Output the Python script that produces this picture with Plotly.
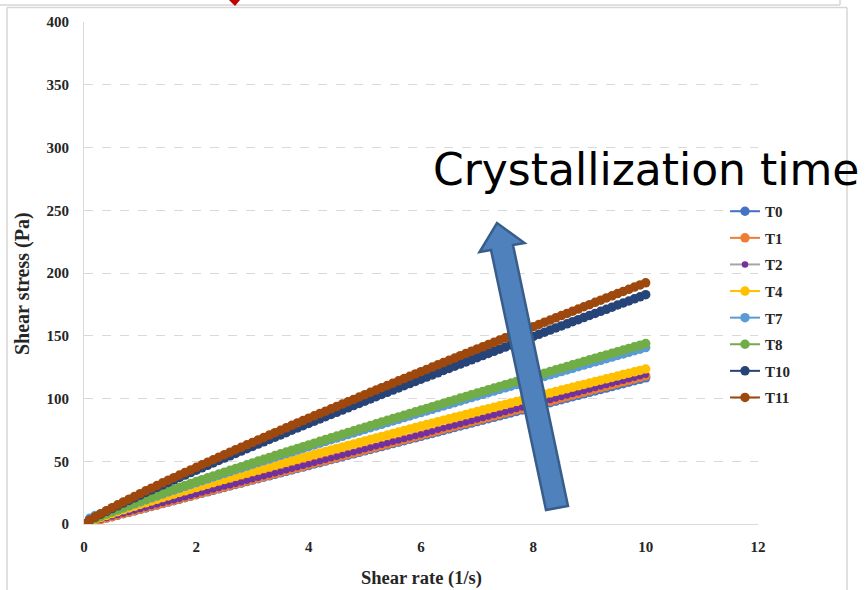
import plotly.graph_objects as go

# ---------------- data ----------------
shear_rate = [0.0, 0.1, 0.2, 0.3, 0.4, 0.5, 0.6, 0.7, 0.8, 0.9, 1.0,
              1.1, 1.2, 1.3, 1.4, 1.5, 1.6, 1.7, 1.8, 1.9, 2.0,
              2.1, 2.2, 2.3, 2.4, 2.5, 2.6, 2.7, 2.8, 2.9, 3.0,
              3.1, 3.2, 3.3, 3.4, 3.5, 3.6, 3.7, 3.8, 3.9, 4.0,
              4.1, 4.2, 4.3, 4.4, 4.5, 4.6, 4.7, 4.8, 4.9, 5.0,
              5.1, 5.2, 5.3, 5.4, 5.5, 5.6, 5.7, 5.8, 5.9, 6.0,
              6.1, 6.2, 6.3, 6.4, 6.5, 6.6, 6.7, 6.8, 6.9, 7.0,
              7.1, 7.2, 7.3, 7.4, 7.5, 7.6, 7.7, 7.8, 7.9, 8.0,
              8.1, 8.2, 8.3, 8.4, 8.5, 8.6, 8.7, 8.8, 8.9, 9.0,
              9.1, 9.2, 9.3, 9.4, 9.5, 9.6, 9.7, 9.8, 9.9, 10.0]

T0 = [0.0, 2.5, 3.5, 4.2, 4.9, 5.8, 7.0, 8.2, 9.3, 10.5, 11.7,
      12.8, 14.0, 15.1, 16.3, 17.5, 18.6, 19.8, 21.0, 22.1, 23.3,
      24.5, 25.6, 26.8, 28.0, 29.1, 30.3, 31.5, 32.6, 33.8, 35.0,
      36.1, 37.3, 38.4, 39.6, 40.8, 41.9, 43.1, 44.3, 45.4, 46.6,
      47.8, 48.9, 50.1, 51.3, 52.4, 53.6, 54.8, 55.9, 57.1, 58.3,
      59.4, 60.6, 61.7, 62.9, 64.1, 65.2, 66.4, 67.6, 68.7, 69.9,
      71.1, 72.2, 73.4, 74.6, 75.7, 76.9, 78.1, 79.2, 80.4, 81.6,
      82.7, 83.9, 85.0, 86.2, 87.4, 88.5, 89.7, 90.9, 92.0, 93.2,
      94.4, 95.5, 96.7, 97.9, 99.0, 100.2, 101.4, 102.5, 103.7, 104.9,
      106.0, 107.2, 108.3, 109.5, 110.7, 111.8, 113.0, 114.2, 115.3, 116.5]

T1 = [0.0, 1.2, 2.4, 3.5, 4.7, 5.9, 7.1, 8.3, 9.4, 10.6, 11.8,
      13.0, 14.2, 15.3, 16.5, 17.7, 18.9, 20.1, 21.2, 22.4, 23.6,
      24.8, 26.0, 27.1, 28.3, 29.5, 30.7, 31.9, 33.0, 34.2, 35.4,
      36.6, 37.8, 38.9, 40.1, 41.3, 42.5, 43.7, 44.8, 46.0, 47.2,
      48.4, 49.6, 50.7, 51.9, 53.1, 54.3, 55.5, 56.6, 57.8, 59.0,
      60.2, 61.4, 62.5, 63.7, 64.9, 66.1, 67.3, 68.4, 69.6, 70.8,
      72.0, 73.2, 74.3, 75.5, 76.7, 77.9, 79.1, 80.2, 81.4, 82.6,
      83.8, 85.0, 86.1, 87.3, 88.5, 89.7, 90.9, 92.0, 93.2, 94.4,
      95.6, 96.8, 97.9, 99.1, 100.3, 101.5, 102.7, 103.8, 105.0, 106.2,
      107.4, 108.6, 109.7, 110.9, 112.1, 113.3, 114.5, 115.6, 116.8, 118.0]

T2 = [0.0, 1.2, 2.4, 3.6, 4.8, 6.0, 7.1, 8.3, 9.5, 10.7, 11.9,
      13.1, 14.3, 15.5, 16.7, 17.9, 19.0, 20.2, 21.4, 22.6, 23.8,
      25.0, 26.2, 27.4, 28.6, 29.8, 30.9, 32.1, 33.3, 34.5, 35.7,
      36.9, 38.1, 39.3, 40.5, 41.7, 42.8, 44.0, 45.2, 46.4, 47.6,
      48.8, 50.0, 51.2, 52.4, 53.6, 54.7, 55.9, 57.1, 58.3, 59.5,
      60.7, 61.9, 63.1, 64.3, 65.5, 66.6, 67.8, 69.0, 70.2, 71.4,
      72.6, 73.8, 75.0, 76.2, 77.4, 78.5, 79.7, 80.9, 82.1, 83.3,
      84.5, 85.7, 86.9, 88.1, 89.3, 90.4, 91.6, 92.8, 94.0, 95.2,
      96.4, 97.6, 98.8, 100.0, 101.2, 102.3, 103.5, 104.7, 105.9, 107.1,
      108.3, 109.5, 110.7, 111.9, 113.1, 114.2, 115.4, 116.6, 117.8, 119.0]

T4 = [0.0, 2.0, 3.7, 5.3, 6.8, 8.3, 9.8, 11.3, 12.7, 14.1, 15.6,
      16.9, 18.3, 19.7, 21.1, 22.4, 23.7, 25.1, 26.4, 27.7, 29.0,
      30.3, 31.6, 32.9, 34.2, 35.5, 36.7, 38.0, 39.3, 40.5, 41.8,
      43.0, 44.3, 45.5, 46.8, 48.0, 49.3, 50.5, 51.7, 52.9, 54.1,
      55.4, 56.6, 57.8, 59.0, 60.2, 61.4, 62.6, 63.8, 65.0, 66.2,
      67.4, 68.6, 69.8, 70.9, 72.1, 73.3, 74.5, 75.7, 76.8, 78.0,
      79.2, 80.3, 81.5, 82.7, 83.8, 85.0, 86.1, 87.3, 88.5, 89.6,
      90.8, 91.9, 93.0, 94.2, 95.3, 96.5, 97.6, 98.8, 99.9, 101.0,
      102.2, 103.3, 104.4, 105.6, 106.7, 107.8, 109.0, 110.1, 111.2, 112.3,
      113.5, 114.6, 115.7, 116.8, 117.9, 119.1, 120.2, 121.3, 122.4, 123.5]

T7 = [0.0, 4.5, 6.8, 8.0, 8.8, 9.8, 11.3, 12.8, 14.5, 16.1, 17.7,
      19.3, 20.9, 22.4, 24.0, 25.5, 27.0, 28.5, 30.0, 31.5, 33.0,
      34.5, 36.0, 37.5, 38.9, 40.4, 41.8, 43.3, 44.7, 46.2, 47.6,
      49.0, 50.4, 51.8, 53.3, 54.7, 56.1, 57.5, 58.9, 60.3, 61.6,
      63.0, 64.4, 65.8, 67.2, 68.5, 69.9, 71.3, 72.6, 74.0, 75.3,
      76.7, 78.1, 79.4, 80.8, 82.1, 83.4, 84.8, 86.1, 87.5, 88.8,
      90.1, 91.4, 92.8, 94.1, 95.4, 96.7, 98.1, 99.4, 100.7, 102.0,
      103.3, 104.6, 105.9, 107.2, 108.5, 109.8, 111.1, 112.4, 113.7, 115.0,
      116.3, 117.6, 118.9, 120.2, 121.5, 122.8, 124.0, 125.3, 126.6, 127.9,
      129.2, 130.4, 131.7, 133.0, 134.3, 135.5, 136.8, 138.1, 139.3, 140.6]

T8 = [0.0, 2.3, 4.3, 6.1, 7.9, 9.7, 11.4, 13.1, 14.8, 16.5, 18.1,
      19.7, 21.3, 22.9, 24.5, 26.1, 27.6, 29.2, 30.7, 32.3, 33.8,
      35.3, 36.8, 38.3, 39.8, 41.3, 42.8, 44.2, 45.7, 47.2, 48.7,
      50.1, 51.6, 53.0, 54.5, 55.9, 57.3, 58.8, 60.2, 61.6, 63.0,
      64.4, 65.9, 67.3, 68.7, 70.1, 71.5, 72.9, 74.3, 75.7, 77.0,
      78.4, 79.8, 81.2, 82.6, 84.0, 85.3, 86.7, 88.1, 89.4, 90.8,
      92.1, 93.5, 94.9, 96.2, 97.6, 98.9, 100.3, 101.6, 103.0, 104.3,
      105.6, 107.0, 108.3, 109.6, 111.0, 112.3, 113.6, 115.0, 116.3, 117.6,
      118.9, 120.2, 121.6, 122.9, 124.2, 125.5, 126.8, 128.1, 129.5, 130.8,
      132.1, 133.4, 134.7, 136.0, 137.3, 138.6, 139.9, 141.2, 142.5, 143.8]

T10 = [0.0, 2.9, 5.4, 7.8, 10.1, 12.3, 14.5, 16.7, 18.8, 20.9, 23.0,
       25.1, 27.1, 29.1, 31.1, 33.1, 35.1, 37.1, 39.0, 41.0, 42.9,
       44.8, 46.8, 48.7, 50.6, 52.5, 54.3, 56.2, 58.1, 60.0, 61.8,
       63.7, 65.5, 67.4, 69.2, 71.0, 72.8, 74.7, 76.5, 78.3, 80.1,
       81.9, 83.7, 85.5, 87.3, 89.0, 90.8, 92.6, 94.4, 96.1, 97.9,
       99.7, 101.4, 103.2, 104.9, 106.7, 108.4, 110.2, 111.9, 113.6, 115.4,
       117.1, 118.8, 120.5, 122.3, 124.0, 125.7, 127.4, 129.1, 130.8, 132.5,
       134.2, 135.9, 137.6, 139.3, 141.0, 142.7, 144.4, 146.1, 147.8, 149.4,
       151.1, 152.8, 154.5, 156.2, 157.8, 159.5, 161.2, 162.8, 164.5, 166.2,
       167.8, 169.5, 171.1, 172.8, 174.5, 176.1, 177.7, 179.4, 181.0, 182.7]

T11 = [0.0, 3.0, 5.7, 8.2, 10.6, 13.0, 15.3, 17.6, 19.8, 22.0, 24.2,
       26.4, 28.5, 30.6, 32.8, 34.9, 36.9, 39.0, 41.1, 43.1, 45.2,
       47.2, 49.2, 51.2, 53.2, 55.2, 57.2, 59.2, 61.1, 63.1, 65.0,
       67.0, 68.9, 70.9, 72.8, 74.7, 76.6, 78.6, 80.5, 82.4, 84.3,
       86.2, 88.1, 89.9, 91.8, 93.7, 95.6, 97.4, 99.3, 101.2, 103.0,
       104.9, 106.7, 108.6, 110.4, 112.2, 114.1, 115.9, 117.7, 119.6, 121.4,
       123.2, 125.0, 126.8, 128.6, 130.4, 132.2, 134.1, 135.9, 137.7, 139.5,
       141.2, 143.0, 144.8, 146.6, 148.4, 150.2, 151.9, 153.7, 155.5, 157.2,
       159.0, 160.8, 162.5, 164.3, 166.1, 167.8, 169.6, 171.3, 173.1, 174.8,
       176.6, 178.3, 180.1, 181.8, 183.6, 185.3, 187.0, 188.8, 190.5, 192.2]

series_names = ["T0", "T1", "T2", "T4", "T7", "T8", "T10", "T11"]
series_values = [T0, T1, T2, T4, T7, T8, T10, T11]
line_colors = ["#4472C4", "#ED7D31", "#A5A5A5", "#FFC000", "#5B9BD5", "#70AD47", "#264478", "#9E480E"]
marker_colors = ["#4472C4", "#ED7D31", "#7030A0", "#FFC000", "#5B9BD5", "#70AD47", "#264478", "#9E480E"]
marker_sizes = [9.5, 9.5, 6.5, 9.5, 9.5, 9.5, 9.5, 9.5]

x_ticks = [0, 2, 4, 6, 8, 10, 12]
y_ticks = [0, 50, 100, 150, 200, 250, 300, 350, 400]

# ---------------- geometry helpers (decoration only) ----------------
W, H = 866, 590
L, R, T, B = 84, 108, 22, 66
PW, PH = W - L - R, H - T - B


def px(xp):
    return (xp - L) / PW


def py(yp):
    return (H - B - yp) / PH


def dx(xp):
    return (xp - L) / PW * 12.0


def dy(yp):
    return (H - B - yp) / PH * 400.0


SERIF = "Liberation Serif, Times New Roman, serif"

fig = go.Figure()
for name, vals, lc, mc, ms in zip(series_names, series_values, line_colors, marker_colors, marker_sizes):
    fig.add_trace(go.Scatter(
        x=shear_rate, y=vals, name=name, mode="lines+markers",
        legendgroup=name,
        line=dict(color=lc, width=2),
        marker=dict(color=mc, size=ms, line=dict(width=0)),
    ))

# block arrow (Crystallization time direction)
arrow_pts = [(546, 510), (491, 250), (479.5, 252), (497, 223), (524.5, 243), (513, 245), (568, 506)]
path = "M " + " L ".join(f"{dx(a)},{dy(b)}" for a, b in arrow_pts) + " Z"
shapes = [dict(type="path", xref="x", yref="y", path=path,
               fillcolor="#4F81BD", line=dict(color="#385D8A", width=2.5), layer="above")]

# slide frame lines
frame_col = "#D6D6D6"


def seg(x0, y0, x1, y1, col=frame_col, w=1.5):
    return dict(type="line", xref="paper", yref="paper", x0=px(x0), y0=py(y0), x1=px(x1), y1=py(y1),
                line=dict(color=col, width=w), layer="above")


shapes += [
    seg(0, 5, 840, 5), seg(840, 0, 840, 5),
    seg(7, 7.5, 847, 7.5), seg(7, 7.5, 7, 590), seg(847, 7.5, 847, 590),
]
# small red arrow tip at the top
shapes.append(dict(type="path", xref="paper", yref="paper",
                   path=f"M {px(229)},{py(0)} L {px(240)},{py(0)} L {px(235)},{py(6)} Z",
                   fillcolor="#C00000", line=dict(width=0), layer="above"))

annotations = [
    dict(text="Crystallization time", xref="paper", yref="paper", x=px(431), y=py(170),
         xanchor="left", yanchor="middle", showarrow=False,
         font=dict(family="DejaVu Sans", size=44, color="#000000")),
    dict(text="Shear stress (Pa)", xref="paper", yref="paper", x=px(22), y=py(284),
         xanchor="center", yanchor="middle", textangle=-90, showarrow=False,
         font=dict(family=SERIF, size=20, color="#262626", weight="bold")),
    dict(text="Shear rate (1/s)", xref="paper", yref="paper", x=0.5, y=py(578),
         xanchor="center", yanchor="middle", showarrow=False,
         font=dict(family=SERIF, size=18.5, color="#262626", weight="bold")),
]

fig.update_layout(
    width=W, height=H,
    margin=dict(l=L, r=R, t=T, b=B, autoexpand=False),
    paper_bgcolor="white", plot_bgcolor="white",
    showlegend=True,
    legend=dict(x=px(725), y=py(195), xanchor="left", yanchor="top",
                font=dict(family=SERIF, size=15, color="#262626", weight="bold"),
                bgcolor="rgba(0,0,0,0)", tracegroupgap=4.1, traceorder="grouped"),
    shapes=shapes, annotations=annotations,
    xaxis=dict(range=[0, 12], tickvals=x_ticks, showgrid=False, zeroline=False,
               showline=True, linecolor="#D9D9D9", linewidth=1, ticks="",
               ticklabelstandoff=9,
               tickfont=dict(family=SERIF, size=15, color="#262626", weight="bold")),
    yaxis=dict(range=[0, 400], tickvals=y_ticks, showgrid=True, gridcolor="#D9D9D9",
               griddash="dash", gridwidth=1, zeroline=False,
               showline=True, linecolor="#D9D9D9", linewidth=1, ticks="",
               ticklabelstandoff=11,
               tickfont=dict(family=SERIF, size=15, color="#262626", weight="bold")),
)

fig.write_html("out.html")
